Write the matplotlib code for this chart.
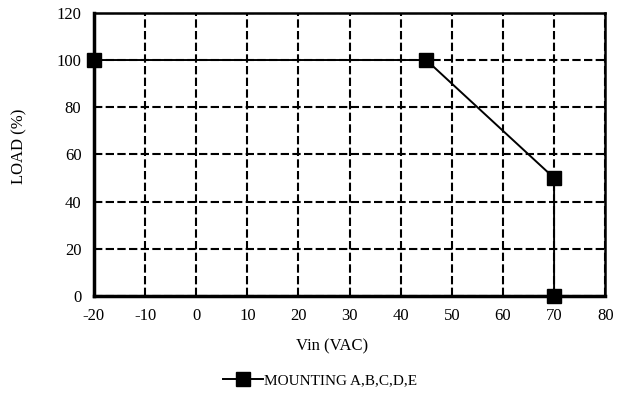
import matplotlib.pyplot as plt
from matplotlib.lines import Line2D

plt.rcParams['font.family'] = ['Liberation Serif', 'DejaVu Serif']
plt.rcParams['axes.unicode_minus'] = False

# derating curve
vin = [-20, 45, 70, 70]
load = [100, 100, 50, 0]
series_name = 'MOUNTING A,B,C,D,E'

fig = plt.figure(figsize=(6.22, 4.01), dpi=100)
ax = fig.add_axes([0.151, 0.262, 0.822, 0.706])

ax.plot(vin, load, color='black', linewidth=1.4, marker='s', markersize=10,
        zorder=5, clip_on=False)

ax.set_xlim(-20, 80)
ax.set_ylim(0, 120)
ax.set_xticks(range(-20, 81, 10))
ax.set_yticks(range(0, 121, 20))
ax.grid(True, color='black', linestyle=(0, (4, 1.6)), linewidth=1.5)
ax.tick_params(length=0, labelsize=12, pad=9)

for side in ['left', 'bottom']:
    ax.spines[side].set_linewidth(2.5)
for side in ['top', 'right']:
    ax.spines[side].set_linewidth(1.8)

ax.set_xlabel('Vin (VAC)', fontsize=12)
ax.xaxis.set_label_coords(0.465, -0.15)
ax.set_ylabel('LOAD (%)', fontsize=12)
ax.yaxis.set_label_coords(-0.13, 0.53)

handle = Line2D([], [], color='black', linewidth=1.4, marker='s', markersize=10)
fig.legend([handle], [series_name], loc='center', bbox_to_anchor=(0.515, 0.052),
           frameon=False, fontsize=11, handlelength=2.6, handletextpad=0.1)

fig.savefig('out.png', dpi=100)
